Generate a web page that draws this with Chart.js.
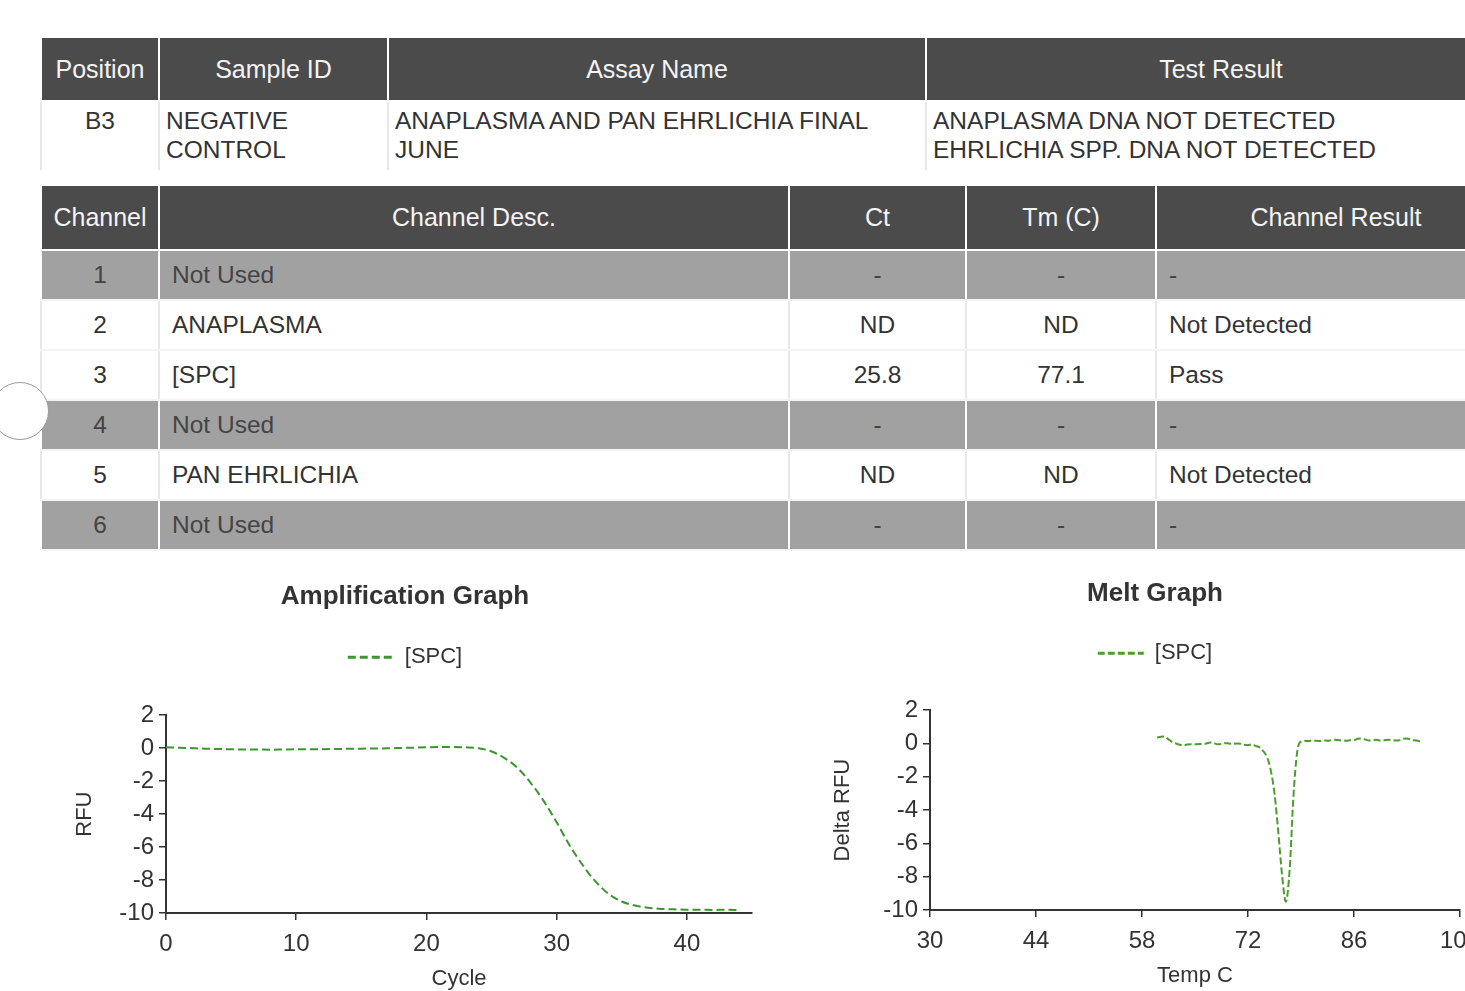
<!DOCTYPE html>
<html>
<head>
<meta charset="utf-8">
<title>B3 - Negative Control</title>
<script src="https://cdn.jsdelivr.net/npm/chart.js@4.4.1/dist/chart.umd.min.js"></script>
<style>
  html, body { margin: 0; padding: 0; background: #fff; overflow: hidden; width: 1465px; height: 991px; }
  body { position: relative; font-family: "Liberation Sans", Arial, sans-serif; color: #333; }
  table { position: absolute; left: 40px; width: 1475px; border-collapse: collapse; table-layout: fixed; font-size: 24.5px; }
  th { background: #4b4b4b; color: #f4f4f4; font-weight: normal; font-size: 25px; border: 2px solid #fff; padding: 0; }
  td { padding: 0; border-left: 2px solid #e8e8e8; border-right: 2px solid #e8e8e8; }
  #resumen { top: 36px; }
  #resumen th { height: 62px; }
  #resumen td { height: 64px; vertical-align: top; padding-top: 4px; line-height: 29px; }
  #canales { top: 184px; }
  #canales th { height: 63px; }
  #canales td { height: 48px; border-top: 2px solid #fff; border-bottom: 2px solid #f4f4f4; }
  #canales tr.gris td { background: #a1a1a1; color: #444; border-left: 2px solid #fff; border-right: 2px solid #fff; }
  .c { text-align: center; }
  .l { padding-left: 12px !important; }
  .l6 { padding-left: 6px !important; }
  #perforacion { position: absolute; left: -9px; top: 382px; width: 56px; height: 56px; border-radius: 50%; background: #fff; border: 1px solid #9a9a9a; }
  canvas { position: absolute; }
  #ampCanvas { left: 40px; top: 565px; }
  #meltCanvas { left: 820px; top: 565px; }
</style>
</head>
<body>

<table id="resumen">
  <colgroup><col style="width:118px"><col style="width:229px"><col style="width:538px"><col style="width:590px"></colgroup>
  <tr><th>Position</th><th>Sample ID</th><th>Assay Name</th><th>Test Result</th></tr>
  <tr>
    <td class="c">B3</td>
    <td class="l6">NEGATIVE<br>CONTROL</td>
    <td class="l6">ANAPLASMA AND PAN EHRLICHIA FINAL<br>JUNE</td>
    <td class="l6">ANAPLASMA DNA NOT DETECTED<br>EHRLICHIA SPP. DNA NOT DETECTED</td>
  </tr>
</table>

<table id="canales">
  <colgroup><col style="width:118px"><col style="width:630px"><col style="width:177px"><col style="width:190px"><col style="width:360px"></colgroup>
  <tr><th>Channel</th><th>Channel Desc.</th><th>Ct</th><th>Tm (C)</th><th>Channel Result</th></tr>
  <tr class="gris"><td class="c">1</td><td class="l">Not Used</td><td class="c">-</td><td class="c">-</td><td class="l">-</td></tr>
  <tr><td class="c">2</td><td class="l">ANAPLASMA</td><td class="c">ND</td><td class="c">ND</td><td class="l">Not Detected</td></tr>
  <tr><td class="c">3</td><td class="l">[SPC]</td><td class="c">25.8</td><td class="c">77.1</td><td class="l">Pass</td></tr>
  <tr class="gris"><td class="c">4</td><td class="l">Not Used</td><td class="c">-</td><td class="c">-</td><td class="l">-</td></tr>
  <tr><td class="c">5</td><td class="l">PAN EHRLICHIA</td><td class="c">ND</td><td class="c">ND</td><td class="l">Not Detected</td></tr>
  <tr class="gris"><td class="c">6</td><td class="l">Not Used</td><td class="c">-</td><td class="c">-</td><td class="l">-</td></tr>
</table>

<div id="perforacion"></div>

<canvas id="ampCanvas" width="730" height="428"></canvas>
<canvas id="meltCanvas" width="670" height="428"></canvas>

<script>
// Amplification curve, channel 3 [SPC]
const ampCycles = [0, 1, 2, 3, 4, 5, 6, 7, 8, 9, 10, 11, 12, 13, 14, 15, 16, 17, 18, 19, 20, 21, 22,
  23, 24, 25, 26, 27, 28, 29, 30, 31, 32, 33, 34, 35, 36, 37, 38, 39, 40, 41, 42, 43, 44];
const ampRfu = [0.05, 0.03, 0.0, -0.03, -0.05, -0.07, -0.08, -0.08, -0.09, -0.08, -0.07, -0.07, -0.06,
  -0.05, -0.04, -0.03, -0.02, -0.01, 0.01, 0.03, 0.05, 0.07, 0.07, 0.05, 0.0, -0.2, -0.6, -1.2, -2.1,
  -3.2, -4.5, -5.9, -7.1, -8.1, -8.85, -9.3, -9.55, -9.68, -9.75, -9.78, -9.8, -9.8, -9.82, -9.8, -9.82];

// Melt curve (negative derivative), channel 3 [SPC]
const meltTemps = [60, 60.5, 61, 61.5, 62, 62.5, 63, 63.5, 64, 64.5, 65, 65.5, 66, 66.5, 67, 67.5, 68,
  68.5, 69, 69.5, 70, 70.5, 71, 71.5, 72, 72.5, 73, 73.5, 74, 74.5, 75, 75.5, 76, 76.5, 77, 77.5, 78,
  78.5, 79, 79.5, 80, 80.5, 81, 81.5, 82, 82.5, 83, 83.5, 84, 84.5, 85, 85.5, 86, 86.5, 87, 87.5, 88,
  88.5, 89, 89.5, 90, 90.5, 91, 91.5, 92, 92.5, 93, 93.5, 94, 94.5, 95];
const meltDeltaRfu = [0.36, 0.4, 0.42, 0.25, 0.08, 0.0, -0.08, -0.1, -0.06, -0.04, -0.05, -0.03, -0.02,
  0.0, 0.06, 0.02, -0.05, -0.03, 0.02, 0.0, -0.02, 0.0, -0.02, -0.08, -0.1, -0.06, -0.14, -0.22, -0.45,
  -0.8, -1.6, -3.0, -5.3, -7.9, -9.5, -7.6, -3.2, -0.5, 0.12, 0.16, 0.15, 0.18, 0.16, 0.15, 0.18, 0.17,
  0.2, 0.22, 0.2, 0.18, 0.17, 0.2, 0.2, 0.28, 0.3, 0.24, 0.18, 0.2, 0.22, 0.18, 0.2, 0.22, 0.2, 0.18,
  0.2, 0.28, 0.3, 0.24, 0.2, 0.15, 0.12];

// Tick values
const rfuTicks = [2, 0, -2, -4, -6, -8, -10];
const cycleTicks = [0, 10, 20, 30, 40];
const tempTicks = [30, 44, 58, 72, 86, 100];

const fuente = "'Liberation Sans', Arial, sans-serif";
const tinta = "#333";

function setTicks(values) {
  return axis => { axis.ticks = values.map(v => ({ value: v })); };
}

function dibujarGrafico(id, cfg) {
  return new Chart(document.getElementById(id), {
    type: "scatter",
    data: {
      datasets: [{
        label: "[SPC]",
        data: cfg.xs.map((x, i) => ({ x: x, y: cfg.ys[i] })),
        showLine: true,
        borderColor: cfg.color,
        backgroundColor: cfg.color,
        borderWidth: 2,
        borderDash: cfg.dash,
        pointRadius: 0,
        cubicInterpolationMode: "monotone"
      }]
    },
    options: {
      responsive: false,
      animation: false,
      // same padding on both sides so the title and legend stay centred
      layout: { padding: { top: 0, right: cfg.pad, bottom: 0, left: cfg.pad } },
      plugins: {
        title: {
          display: true,
          text: cfg.title,
          color: tinta,
          font: { family: fuente, size: 26, weight: "bold" },
          padding: { top: cfg.titleTop, bottom: cfg.titleBottom }
        },
        legend: {
          labels: {
            usePointStyle: true,
            pointStyle: "line",
            pointStyleWidth: 46,
            color: tinta,
            font: { family: fuente, size: 22 },
            padding: 10,
            generateLabels: chart =>
              Chart.defaults.plugins.legend.labels.generateLabels(chart).map(item =>
                Object.assign(item, { lineDash: cfg.dash, lineWidth: 3, strokeStyle: cfg.color }))
          }
        },
        // empty spacer between legend and plot
        subtitle: { display: true, text: "", weight: 500, font: { size: 10 }, padding: { top: 0, bottom: cfg.gap } },
        tooltip: { enabled: false }
      },
      scales: {
        x: {
          type: "linear",
          min: cfg.xMin,
          max: cfg.xMax,
          afterBuildTicks: setTicks(cfg.xTicks),
          afterFit: s => { s.height = cfg.xHeight; },
          title: {
            display: true, text: cfg.xTitle, color: tinta,
            font: { family: fuente, size: 22 }, padding: { top: 0, bottom: cfg.xTitleBottom }
          },
          ticks: { color: tinta, font: { family: fuente, size: 24 }, padding: 10, maxRotation: 0 },
          grid: { drawOnChartArea: false, tickLength: 7, color: tinta, lineWidth: 1.5 },
          border: { display: true, color: tinta, width: 2 }
        },
        y: {
          type: "linear",
          min: -10,
          max: 2,
          afterBuildTicks: setTicks(rfuTicks),
          afterFit: s => { s.width = cfg.yWidth; },
          title: {
            display: true, text: cfg.yTitle, color: tinta,
            font: { family: fuente, size: 22 }, padding: { top: cfg.yTitleTop, bottom: 0 }
          },
          ticks: { color: tinta, font: { family: fuente, size: 24 }, padding: 5 },
          grid: { drawOnChartArea: false, tickLength: 7, color: tinta, lineWidth: 1.5 },
          border: { display: true, color: tinta, width: 2 }
        }
      }
    }
  });
}

dibujarGrafico("ampCanvas", {
  title: "Amplification Graph",
  xs: ampCycles, ys: ampRfu,
  color: "#3b962f", dash: [8, 4],
  xMin: 0, xMax: 45, xTicks: cycleTicks,
  xTitle: "Cycle", yTitle: "RFU",
  titleTop: 16, titleBottom: 24, gap: 25,
  pad: 18, xHeight: 80, xTitleBottom: 1,
  yWidth: 108, yTitleTop: 14
});

dibujarGrafico("meltCanvas", {
  title: "Melt Graph",
  xs: meltTemps, ys: meltDeltaRfu,
  color: "#4a9e2c", dash: [7, 3],
  xMin: 30, xMax: 100, xTicks: tempTicks,
  xTitle: "Temp C", yTitle: "Delta RFU",
  titleTop: 13, titleBottom: 23, gap: 24,
  pad: 10, xHeight: 83, xTitleBottom: 4,
  yWidth: 100, yTitleTop: 0
});
</script>
</body>
</html>
